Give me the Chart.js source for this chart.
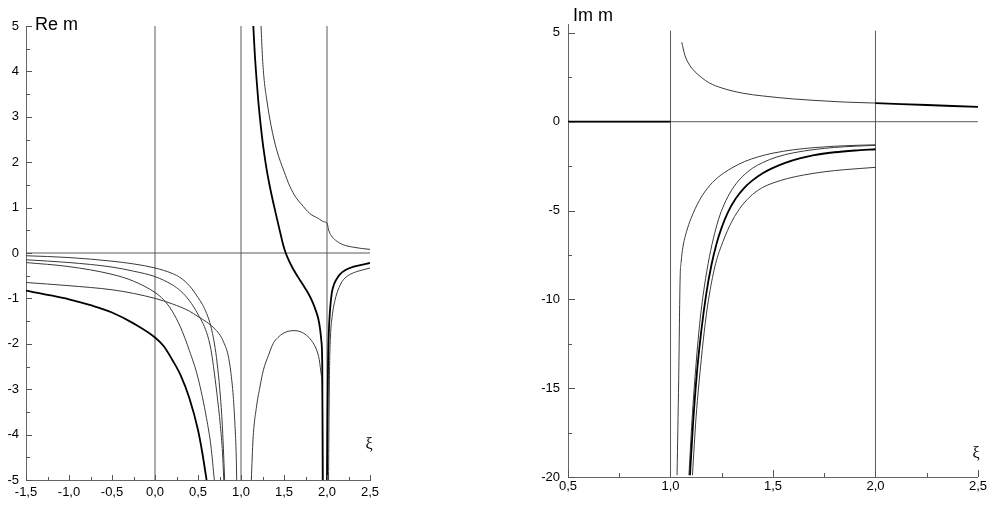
<!DOCTYPE html>
<html><head><meta charset="utf-8">
<script src="https://cdn.jsdelivr.net/npm/chart.js@4.4.1/dist/chart.umd.min.js"></script>
<style>
html,body{margin:0;padding:0;background:#fff;width:989px;height:506px;overflow:hidden}
#c1{position:absolute;left:0;top:0}
#c2{position:absolute;left:500px;top:0}
</style></head><body>
<canvas id="c1" width="420" height="506"></canvas>
<canvas id="c2" width="489" height="506"></canvas>
<script>
// ---------- Left panel: Re m ----------
const reXTicks = [-1.5,-1.0,-0.5,0,0.5,1.0,1.5,2.0,2.5];
const reXMinor = [-1.25,-0.75,-0.25,0.25,0.75,1.25,1.75,2.25];
const reYTicks = [-5,-4,-3,-2,-1,0,1,2,3,4,5];
const reYMinor = [-4.5,-3.5,-2.5,-1.5,-0.5,0.5,1.5,2.5,3.5,4.5];

const reA = [[-1.5,-0.06],[-1.0,-0.10],[-0.5,-0.18],[-0.25,-0.24],[0,-0.33],[0.2,-0.45],[0.3,-0.55],[0.4,-0.72],[0.5,-0.98],[0.55,-1.13],[0.6,-1.33],[0.65,-1.62],[0.7,-2.1],[0.73,-2.55],[0.76,-3.15],[0.78,-3.7],[0.795,-4.3],[0.81,-5]];
const reB = [[-1.5,-0.15],[-1.0,-0.21],[-0.5,-0.31],[-0.25,-0.40],[0,-0.52],[0.2,-0.70],[0.3,-0.84],[0.4,-1.05],[0.5,-1.35],[0.6,-1.75],[0.65,-2.12],[0.68,-2.5],[0.72,-3.1],[0.76,-3.8],[0.785,-4.4],[0.80,-5]];
const reC = [[-1.5,-0.21],[-1.0,-0.30],[-0.5,-0.47],[-0.25,-0.62],[0,-0.87],[0.1,-1.03],[0.2,-1.28],[0.3,-1.65],[0.4,-2.15],[0.5,-2.75],[0.6,-3.65],[0.65,-4.25],[0.69,-5]];
const reD = [[-1.5,-0.65],[-1.0,-0.72],[-0.5,-0.81],[-0.25,-0.89],[0,-1.0],[0.2,-1.12],[0.4,-1.28],[0.5,-1.40],[0.6,-1.52],[0.7,-1.68],[0.76,-1.82],[0.8,-1.97],[0.85,-2.25],[0.88,-2.6],[0.91,-3.16],[0.93,-3.8],[0.945,-4.5],[0.95,-5]];
const reE = [[-1.5,-0.83],[-1.25,-0.92],[-1.0,-1.02],[-0.75,-1.15],[-0.5,-1.31],[-0.25,-1.55],[0,-1.86],[0.1,-2.05],[0.2,-2.35],[0.3,-2.7],[0.4,-3.2],[0.5,-3.9],[0.55,-4.4],[0.6,-5]];
const reF = [[1.143,5],[1.16,4.4],[1.18,3.85],[1.20,3.37],[1.23,2.8],[1.26,2.32],[1.30,1.82],[1.34,1.42],[1.38,1.07],[1.42,0.74],[1.46,0.42],[1.49,0.18],[1.52,0],[1.56,-0.18],[1.6,-0.33],[1.66,-0.52],[1.72,-0.7],[1.78,-0.88],[1.83,-1.07],[1.87,-1.27],[1.9,-1.46],[1.92,-1.68],[1.935,-1.95],[1.945,-2.5],[1.95,-5]];
const reG = [[1.12,-5],[1.14,-4.1],[1.18,-3.39],[1.22,-2.95],[1.26,-2.58],[1.32,-2.25],[1.375,-1.99],[1.43,-1.86],[1.49,-1.77],[1.56,-1.72],[1.628,-1.71],[1.70,-1.74],[1.76,-1.81],[1.82,-1.93],[1.88,-2.14],[1.91,-2.35],[1.935,-2.7],[1.945,-2.93],[1.95,-4],[1.952,-5]];
const reH = [[1.233,5],[1.25,4.3],[1.27,3.8],[1.30,3.37],[1.35,2.8],[1.415,2.27],[1.5,1.8],[1.57,1.46],[1.64,1.22],[1.7,1.08],[1.8,0.87],[1.9,0.76],[1.96,0.69],[2.0,0.66],[2.02,0.5],[2.05,0.38],[2.1,0.28],[2.19,0.18],[2.3,0.13],[2.4,0.10],[2.5,0.08]];
const reI = [[2.0,-5],[2.006,-3.5],[2.012,-2.5],[2.02,-1.8],[2.035,-1.26],[2.055,-0.89],[2.08,-0.7],[2.11,-0.58],[2.15,-0.47],[2.22,-0.37],[2.31,-0.30],[2.4,-0.26],[2.5,-0.22]];
const reJ = [[2.018,-5],[2.024,-3.5],[2.03,-2.5],[2.04,-1.85],[2.06,-1.4],[2.093,-1.04],[2.14,-0.76],[2.19,-0.59],[2.27,-0.47],[2.345,-0.41],[2.42,-0.37],[2.5,-0.33]];
const reRefV0 = [[0,-5],[0,5]];
const reRefV1 = [[1,-5],[1,5]];
const reRefV2 = [[2,-5],[2,5]];
const reRefH0 = [[-1.5,0],[2.5,0]];

// ---------- Right panel: Im m ----------
const imXTicks = [0.5,1.0,1.5,2.0,2.5];
const imXMinor = [0.75,1.25,1.75,2.25];
const imYTicks = [-20,-15,-10,-5,0,5];
const imYMinor = [-17.5,-12.5,-7.5,-2.5,2.5];

const imU = [[1.055,4.47],[1.07,3.75],[1.09,3.25],[1.11,2.93],[1.15,2.5],[1.19,2.18],[1.25,1.9],[1.35,1.61],[1.45,1.45],[1.6,1.28],[1.7,1.2],[1.84,1.11],[2.0,1.05]];
const imUThick = [[2.0,1.05],[2.25,0.94],[2.5,0.83]];
const imL1 = [[1.032,-19.9],[1.04,-14.5],[1.047,-8.8],[1.052,-7.9],[1.06,-7.1],[1.078,-6.2],[1.1,-5.45],[1.14,-4.45],[1.18,-3.75],[1.23,-3.15],[1.3,-2.6],[1.36,-2.25],[1.43,-1.97],[1.5,-1.77],[1.6,-1.58],[1.7,-1.46],[1.8,-1.38],[1.9,-1.33],[2.0,-1.30]];
const imL2 = [[1.09,-19.9],[1.105,-16.8],[1.125,-13.6],[1.145,-11.1],[1.165,-9.3],[1.19,-7.6],[1.215,-6.3],[1.24,-5.3],[1.27,-4.45],[1.31,-3.65],[1.35,-3.1],[1.40,-2.62],[1.45,-2.3],[1.515,-2.0],[1.6,-1.75],[1.7,-1.57],[1.8,-1.45],[1.9,-1.38],[2.0,-1.33]];
const imL3 = [[1.095,-19.9],[1.11,-17.0],[1.13,-14.0],[1.15,-11.8],[1.175,-9.65],[1.2,-8.05],[1.225,-6.85],[1.25,-5.95],[1.28,-5.1],[1.32,-4.3],[1.36,-3.72],[1.40,-3.3],[1.45,-2.9],[1.5,-2.6],[1.56,-2.32],[1.63,-2.07],[1.7,-1.88],[1.8,-1.72],[1.9,-1.62],[2.0,-1.55]];
const imL4 = [[1.107,-19.9],[1.125,-16.6],[1.15,-13.4],[1.17,-11.3],[1.19,-9.7],[1.22,-8.0],[1.256,-6.75],[1.3,-5.6],[1.35,-4.7],[1.4,-4.1],[1.45,-3.7],[1.5,-3.45],[1.57,-3.2],[1.65,-3.0],[1.75,-2.82],[1.85,-2.7],[2.0,-2.57]];
const imZeroThick = [[0.5,0],[1.0,0]];
const imRefH0 = [[0.5,0],[2.5,0]];
const imRefV1 = [[1,-20],[1,5.13]];
const imRefV2 = [[2,-20],[2,5.13]];

// ---------- helpers ----------
const FONT = "'Liberation Sans', Arial, sans-serif";
const THIN = '#3a3a3a', THICK = '#000', REF = '#5a5a5a';
function ds(pts, color, width, smooth) {
  return { data: pts.map(p => ({x: p[0], y: p[1]})), borderColor: color, borderWidth: width,
    pointRadius: 0, fill: false, tension: 0, cubicInterpolationMode: smooth ? 'monotone' : 'default' };
}
const fmt1 = v => Number(v).toFixed(1).replace('.', ',');
const fmt0 = v => String(Math.round(v));

const decoPlugin = {
  id: 'deco',
  afterDatasetsDraw(chart, args, o) {
    const ctx = chart.ctx, xs = chart.scales.x, ys = chart.scales.y, a = chart.chartArea;
    ctx.save();
    ctx.strokeStyle = '#555'; ctx.lineWidth = 1;
    ctx.beginPath();
    const vx = (vals, len) => vals.forEach(v => { const p = Math.round(xs.getPixelForValue(v)) + 0.5; ctx.moveTo(p, a.bottom); ctx.lineTo(p, a.bottom - len); });
    const vy = (vals, len) => vals.forEach(v => { const p = Math.round(ys.getPixelForValue(v)) + 0.5; ctx.moveTo(a.left, p); ctx.lineTo(a.left + len, p); });
    vx(o.xMajor, o.xMajorLen); vx(o.xMinor, o.xMinorLen);
    vy(o.yMajor, o.yMajorLen); vy(o.yMinor, o.yMinorLen);
    ctx.stroke();
    ctx.fillStyle = '#000';
    o.texts.forEach(t => { ctx.font = t.font; ctx.textAlign = t.align; ctx.textBaseline = 'alphabetic'; ctx.fillText(t.text, t.x, t.y); });
    ctx.restore();
  }
};

function axis(min, max, ticks, fmt, pad, fitProp, fitVal) {
  return {
    type: 'linear', min, max,
    afterBuildTicks: s => { s.ticks = ticks.map(v => ({value: v})); },
    afterFit: s => { s[fitProp] = fitVal; },
    ticks: { callback: fmt, color: '#000', font: {family: FONT, size: 13}, padding: pad, autoSkip: false, maxRotation: 0, includeBounds: false },
    grid: { drawOnChartArea: false, drawTicks: false },
    border: { display: true, color: '#666', width: 1 }
  };
}

new Chart(document.getElementById('c1'), {
  type: 'line',
  data: { datasets: [
    ds(reE, THICK, 1.8, true), ds(reF, THICK, 1.8, true), ds(reI, THICK, 1.8, true),
    ds(reA, THIN, 1, true), ds(reB, THIN, 1, true), ds(reC, THIN, 1, true), ds(reD, THIN, 1, true),
    ds(reG, THIN, 1, true), ds(reH, THIN, 1, true), ds(reJ, THIN, 1, true),
    ds(reRefV0, REF, 1, false), ds(reRefV1, REF, 1, false), ds(reRefV2, REF, 1, false), ds(reRefH0, REF, 1, false)
  ]},
  options: {
    responsive: false, animation: false, events: [],
    layout: { padding: {left: 0, top: 26, right: 50, bottom: 0} },
    scales: {
      x: axis(-1.5, 2.5, reXTicks, fmt1, 5, 'height', 26),
      y: axis(-5, 5, reYTicks, fmt0, 7, 'width', 26)
    },
    plugins: {
      legend: {display: false}, tooltip: {enabled: false},
      deco: { xMajor: reXTicks, xMinor: reXMinor, yMajor: reYTicks, yMinor: reYMinor,
        xMajorLen: 5, xMinorLen: 3, yMajorLen: 6, yMinorLen: 4,
        texts: [
          {text: 'Re m', x: 35, y: 30, font: "18px " + FONT, align: 'left'},
          {text: 'ξ', x: 369, y: 449, font: "16px 'Liberation Serif', 'DejaVu Serif', serif", align: 'center'}
        ] }
    }
  },
  plugins: [decoPlugin]
});

new Chart(document.getElementById('c2'), {
  type: 'line',
  data: { datasets: [
    ds(imL3, THICK, 1.8, true), ds(imUThick, THICK, 1.8, true), ds(imZeroThick, THICK, 1.8, false),
    ds(imU, THIN, 1, true), ds(imL1, THIN, 1, true), ds(imL2, THIN, 1, true), ds(imL4, THIN, 1, true),
    ds(imRefV1, REF, 1, false), ds(imRefV2, REF, 1, false), ds(imRefH0, REF, 1, false)
  ]},
  options: {
    responsive: false, animation: false, events: [],
    layout: { padding: {left: 0, top: 24, right: 10, bottom: 0} },
    scales: {
      x: axis(0.5, 2.5, imXTicks, fmt1, 2, 'height', 29),
      y: axis(-20, 5.5, imYTicks, fmt0, 8, 'width', 68)
    },
    plugins: {
      legend: {display: false}, tooltip: {enabled: false},
      deco: { xMajor: imXTicks, xMinor: imXMinor, yMajor: imYTicks, yMinor: imYMinor,
        xMajorLen: 7, xMinorLen: 4, yMajorLen: 7, yMinorLen: 4,
        texts: [
          {text: 'Im m', x: 73, y: 21, font: "18px " + FONT, align: 'left'},
          {text: 'ξ', x: 476, y: 458, font: "16px 'Liberation Serif', 'DejaVu Serif', serif", align: 'center'}
        ] }
    }
  },
  plugins: [decoPlugin]
});
</script>
</body></html>
